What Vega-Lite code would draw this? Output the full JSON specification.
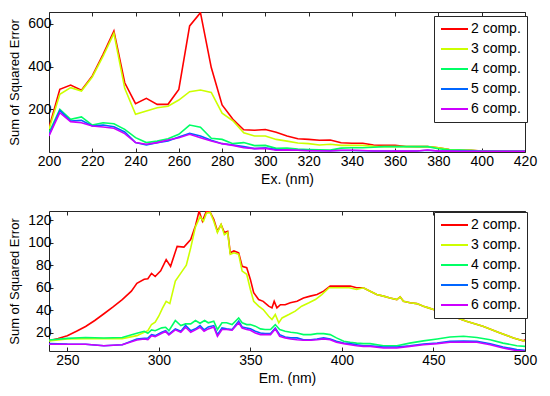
{
"$schema": "https://vega.github.io/schema/vega-lite/v6.json",
"autosize": {"type": "pad"},
"padding": {"left": 8, "top": 11, "right": 8, "bottom": 5},
"background": "white",
"datasets": {
"ex": [
{"nm":200,"comp":"2 comp.","sse":114},{"nm":205,"comp":"2 comp.","sse":293},{"nm":210,"comp":"2 comp.","sse":313},{"nm":215,"comp":"2 comp.","sse":289},{"nm":220,"comp":"2 comp.","sse":356},{"nm":225,"comp":"2 comp.","sse":457},{"nm":230,"comp":"2 comp.","sse":566},{"nm":235,"comp":"2 comp.","sse":324},{"nm":240,"comp":"2 comp.","sse":226},{"nm":245,"comp":"2 comp.","sse":251},{"nm":250,"comp":"2 comp.","sse":223},{"nm":255,"comp":"2 comp.","sse":223},{"nm":260,"comp":"2 comp.","sse":293},{"nm":265,"comp":"2 comp.","sse":590},{"nm":270,"comp":"2 comp.","sse":652},{"nm":275,"comp":"2 comp.","sse":395},{"nm":280,"comp":"2 comp.","sse":220},{"nm":285,"comp":"2 comp.","sse":153},{"nm":290,"comp":"2 comp.","sse":104},{"nm":295,"comp":"2 comp.","sse":102},{"nm":300,"comp":"2 comp.","sse":105},{"nm":305,"comp":"2 comp.","sse":92},{"nm":310,"comp":"2 comp.","sse":75},{"nm":315,"comp":"2 comp.","sse":62},{"nm":320,"comp":"2 comp.","sse":59},{"nm":325,"comp":"2 comp.","sse":55},{"nm":330,"comp":"2 comp.","sse":56},{"nm":335,"comp":"2 comp.","sse":43},{"nm":340,"comp":"2 comp.","sse":41},{"nm":345,"comp":"2 comp.","sse":41},{"nm":350,"comp":"2 comp.","sse":33},{"nm":355,"comp":"2 comp.","sse":31},{"nm":360,"comp":"2 comp.","sse":31},{"nm":365,"comp":"2 comp.","sse":26},{"nm":370,"comp":"2 comp.","sse":25},{"nm":375,"comp":"2 comp.","sse":25},{"nm":380,"comp":"2 comp.","sse":20},{"nm":385,"comp":"2 comp.","sse":12},{"nm":390,"comp":"2 comp.","sse":9},{"nm":395,"comp":"2 comp.","sse":8},{"nm":400,"comp":"2 comp.","sse":5},{"nm":405,"comp":"2 comp.","sse":4},{"nm":410,"comp":"2 comp.","sse":3},{"nm":415,"comp":"2 comp.","sse":3},{"nm":420,"comp":"2 comp.","sse":3},
{"nm":200,"comp":"3 comp.","sse":106},{"nm":205,"comp":"3 comp.","sse":270},{"nm":210,"comp":"3 comp.","sse":301},{"nm":215,"comp":"3 comp.","sse":285},{"nm":220,"comp":"3 comp.","sse":351},{"nm":225,"comp":"3 comp.","sse":449},{"nm":230,"comp":"3 comp.","sse":555},{"nm":235,"comp":"3 comp.","sse":298},{"nm":240,"comp":"3 comp.","sse":176},{"nm":245,"comp":"3 comp.","sse":192},{"nm":250,"comp":"3 comp.","sse":207},{"nm":255,"comp":"3 comp.","sse":214},{"nm":260,"comp":"3 comp.","sse":243},{"nm":265,"comp":"3 comp.","sse":282},{"nm":270,"comp":"3 comp.","sse":290},{"nm":275,"comp":"3 comp.","sse":279},{"nm":280,"comp":"3 comp.","sse":182},{"nm":285,"comp":"3 comp.","sse":146},{"nm":290,"comp":"3 comp.","sse":90},{"nm":295,"comp":"3 comp.","sse":75},{"nm":300,"comp":"3 comp.","sse":75},{"nm":305,"comp":"3 comp.","sse":59},{"nm":310,"comp":"3 comp.","sse":51},{"nm":315,"comp":"3 comp.","sse":42},{"nm":320,"comp":"3 comp.","sse":39},{"nm":325,"comp":"3 comp.","sse":33},{"nm":330,"comp":"3 comp.","sse":36},{"nm":335,"comp":"3 comp.","sse":31},{"nm":340,"comp":"3 comp.","sse":31},{"nm":345,"comp":"3 comp.","sse":31},{"nm":350,"comp":"3 comp.","sse":27},{"nm":355,"comp":"3 comp.","sse":25},{"nm":360,"comp":"3 comp.","sse":25},{"nm":365,"comp":"3 comp.","sse":25},{"nm":370,"comp":"3 comp.","sse":25},{"nm":375,"comp":"3 comp.","sse":25},{"nm":380,"comp":"3 comp.","sse":20},{"nm":385,"comp":"3 comp.","sse":12},{"nm":390,"comp":"3 comp.","sse":9},{"nm":395,"comp":"3 comp.","sse":8},{"nm":400,"comp":"3 comp.","sse":5},{"nm":405,"comp":"3 comp.","sse":4},{"nm":410,"comp":"3 comp.","sse":3},{"nm":415,"comp":"3 comp.","sse":3},{"nm":420,"comp":"3 comp.","sse":3},
{"nm":200,"comp":"4 comp.","sse":90},{"nm":205,"comp":"4 comp.","sse":200},{"nm":210,"comp":"4 comp.","sse":153},{"nm":215,"comp":"4 comp.","sse":164},{"nm":220,"comp":"4 comp.","sse":126},{"nm":225,"comp":"4 comp.","sse":137},{"nm":230,"comp":"4 comp.","sse":132},{"nm":235,"comp":"4 comp.","sse":106},{"nm":240,"comp":"4 comp.","sse":67},{"nm":245,"comp":"4 comp.","sse":44},{"nm":250,"comp":"4 comp.","sse":51},{"nm":255,"comp":"4 comp.","sse":62},{"nm":260,"comp":"4 comp.","sse":83},{"nm":265,"comp":"4 comp.","sse":126},{"nm":270,"comp":"4 comp.","sse":116},{"nm":275,"comp":"4 comp.","sse":64},{"nm":280,"comp":"4 comp.","sse":59},{"nm":285,"comp":"4 comp.","sse":39},{"nm":290,"comp":"4 comp.","sse":44},{"nm":295,"comp":"4 comp.","sse":30},{"nm":300,"comp":"4 comp.","sse":31},{"nm":305,"comp":"4 comp.","sse":17},{"nm":310,"comp":"4 comp.","sse":18},{"nm":315,"comp":"4 comp.","sse":14},{"nm":320,"comp":"4 comp.","sse":12},{"nm":325,"comp":"4 comp.","sse":10},{"nm":330,"comp":"4 comp.","sse":9},{"nm":335,"comp":"4 comp.","sse":18},{"nm":340,"comp":"4 comp.","sse":20},{"nm":345,"comp":"4 comp.","sse":20},{"nm":350,"comp":"4 comp.","sse":22},{"nm":355,"comp":"4 comp.","sse":25},{"nm":360,"comp":"4 comp.","sse":25},{"nm":365,"comp":"4 comp.","sse":25},{"nm":370,"comp":"4 comp.","sse":25},{"nm":375,"comp":"4 comp.","sse":25},{"nm":380,"comp":"4 comp.","sse":15},{"nm":385,"comp":"4 comp.","sse":10},{"nm":390,"comp":"4 comp.","sse":9},{"nm":395,"comp":"4 comp.","sse":7},{"nm":400,"comp":"4 comp.","sse":5},{"nm":405,"comp":"4 comp.","sse":4},{"nm":410,"comp":"4 comp.","sse":3},{"nm":415,"comp":"4 comp.","sse":3},{"nm":420,"comp":"4 comp.","sse":3},
{"nm":200,"comp":"5 comp.","sse":80},{"nm":205,"comp":"5 comp.","sse":195},{"nm":210,"comp":"5 comp.","sse":145},{"nm":215,"comp":"5 comp.","sse":148},{"nm":220,"comp":"5 comp.","sse":122},{"nm":225,"comp":"5 comp.","sse":126},{"nm":230,"comp":"5 comp.","sse":118},{"nm":235,"comp":"5 comp.","sse":94},{"nm":240,"comp":"5 comp.","sse":44},{"nm":245,"comp":"5 comp.","sse":33},{"nm":250,"comp":"5 comp.","sse":44},{"nm":255,"comp":"5 comp.","sse":52},{"nm":260,"comp":"5 comp.","sse":70},{"nm":265,"comp":"5 comp.","sse":87},{"nm":270,"comp":"5 comp.","sse":75},{"nm":275,"comp":"5 comp.","sse":55},{"nm":280,"comp":"5 comp.","sse":39},{"nm":285,"comp":"5 comp.","sse":33},{"nm":290,"comp":"5 comp.","sse":25},{"nm":295,"comp":"5 comp.","sse":16},{"nm":300,"comp":"5 comp.","sse":20},{"nm":305,"comp":"5 comp.","sse":11},{"nm":310,"comp":"5 comp.","sse":9},{"nm":315,"comp":"5 comp.","sse":8},{"nm":320,"comp":"5 comp.","sse":7},{"nm":325,"comp":"5 comp.","sse":6},{"nm":330,"comp":"5 comp.","sse":6},{"nm":335,"comp":"5 comp.","sse":7},{"nm":340,"comp":"5 comp.","sse":7},{"nm":345,"comp":"5 comp.","sse":6},{"nm":350,"comp":"5 comp.","sse":5},{"nm":355,"comp":"5 comp.","sse":5},{"nm":360,"comp":"5 comp.","sse":5},{"nm":365,"comp":"5 comp.","sse":5},{"nm":370,"comp":"5 comp.","sse":5},{"nm":375,"comp":"5 comp.","sse":8},{"nm":380,"comp":"5 comp.","sse":5},{"nm":385,"comp":"5 comp.","sse":4},{"nm":390,"comp":"5 comp.","sse":4},{"nm":395,"comp":"5 comp.","sse":4},{"nm":400,"comp":"5 comp.","sse":3},{"nm":405,"comp":"5 comp.","sse":3},{"nm":410,"comp":"5 comp.","sse":3},{"nm":415,"comp":"5 comp.","sse":3},{"nm":420,"comp":"5 comp.","sse":3},
{"nm":200,"comp":"6 comp.","sse":75},{"nm":205,"comp":"6 comp.","sse":184},{"nm":210,"comp":"6 comp.","sse":142},{"nm":215,"comp":"6 comp.","sse":137},{"nm":220,"comp":"6 comp.","sse":122},{"nm":225,"comp":"6 comp.","sse":117},{"nm":230,"comp":"6 comp.","sse":111},{"nm":235,"comp":"6 comp.","sse":86},{"nm":240,"comp":"6 comp.","sse":44},{"nm":245,"comp":"6 comp.","sse":36},{"nm":250,"comp":"6 comp.","sse":44},{"nm":255,"comp":"6 comp.","sse":56},{"nm":260,"comp":"6 comp.","sse":67},{"nm":265,"comp":"6 comp.","sse":83},{"nm":270,"comp":"6 comp.","sse":67},{"nm":275,"comp":"6 comp.","sse":51},{"nm":280,"comp":"6 comp.","sse":39},{"nm":285,"comp":"6 comp.","sse":31},{"nm":290,"comp":"6 comp.","sse":20},{"nm":295,"comp":"6 comp.","sse":16},{"nm":300,"comp":"6 comp.","sse":17},{"nm":305,"comp":"6 comp.","sse":8},{"nm":310,"comp":"6 comp.","sse":10},{"nm":315,"comp":"6 comp.","sse":8},{"nm":320,"comp":"6 comp.","sse":6},{"nm":325,"comp":"6 comp.","sse":6},{"nm":330,"comp":"6 comp.","sse":5},{"nm":335,"comp":"6 comp.","sse":8},{"nm":340,"comp":"6 comp.","sse":8},{"nm":345,"comp":"6 comp.","sse":7},{"nm":350,"comp":"6 comp.","sse":5},{"nm":355,"comp":"6 comp.","sse":5},{"nm":360,"comp":"6 comp.","sse":4},{"nm":365,"comp":"6 comp.","sse":4},{"nm":370,"comp":"6 comp.","sse":5},{"nm":375,"comp":"6 comp.","sse":9},{"nm":380,"comp":"6 comp.","sse":4},{"nm":385,"comp":"6 comp.","sse":4},{"nm":390,"comp":"6 comp.","sse":3},{"nm":395,"comp":"6 comp.","sse":3},{"nm":400,"comp":"6 comp.","sse":3},{"nm":405,"comp":"6 comp.","sse":3},{"nm":410,"comp":"6 comp.","sse":3},{"nm":415,"comp":"6 comp.","sse":3},{"nm":420,"comp":"6 comp.","sse":3}
],
"em": [
{"nm":240,"comp":"2 comp.","sse":13},{"nm":245,"comp":"2 comp.","sse":15},{"nm":250,"comp":"2 comp.","sse":17.6},{"nm":255,"comp":"2 comp.","sse":21.5},{"nm":260,"comp":"2 comp.","sse":25.7},{"nm":265,"comp":"2 comp.","sse":31},{"nm":270,"comp":"2 comp.","sse":37},{"nm":275,"comp":"2 comp.","sse":43},{"nm":280,"comp":"2 comp.","sse":49.5},{"nm":285,"comp":"2 comp.","sse":57},{"nm":288,"comp":"2 comp.","sse":64},{"nm":292,"comp":"2 comp.","sse":67.5},{"nm":294,"comp":"2 comp.","sse":68},{"nm":296,"comp":"2 comp.","sse":72.8},{"nm":298,"comp":"2 comp.","sse":70},{"nm":301,"comp":"2 comp.","sse":75},{"nm":304,"comp":"2 comp.","sse":85},{"nm":306.4,"comp":"2 comp.","sse":79},{"nm":310,"comp":"2 comp.","sse":96.7},{"nm":313.7,"comp":"2 comp.","sse":96},{"nm":317.4,"comp":"2 comp.","sse":102.7},{"nm":320,"comp":"2 comp.","sse":115},{"nm":322,"comp":"2 comp.","sse":128},{"nm":323.8,"comp":"2 comp.","sse":119},{"nm":326,"comp":"2 comp.","sse":128},{"nm":328,"comp":"2 comp.","sse":127},{"nm":330,"comp":"2 comp.","sse":120.7},{"nm":332,"comp":"2 comp.","sse":110},{"nm":334,"comp":"2 comp.","sse":116},{"nm":335.8,"comp":"2 comp.","sse":109},{"nm":337.6,"comp":"2 comp.","sse":110},{"nm":339,"comp":"2 comp.","sse":91},{"nm":341,"comp":"2 comp.","sse":92.6},{"nm":343.6,"comp":"2 comp.","sse":91},{"nm":345.5,"comp":"2 comp.","sse":79},{"nm":348,"comp":"2 comp.","sse":77.8},{"nm":350,"comp":"2 comp.","sse":67.4},{"nm":351.8,"comp":"2 comp.","sse":55.6},{"nm":354.5,"comp":"2 comp.","sse":49.6},{"nm":357,"comp":"2 comp.","sse":48},{"nm":360,"comp":"2 comp.","sse":43.7},{"nm":361.8,"comp":"2 comp.","sse":42.2},{"nm":363,"comp":"2 comp.","sse":48},{"nm":364.5,"comp":"2 comp.","sse":42.2},{"nm":366.4,"comp":"2 comp.","sse":45},{"nm":369,"comp":"2 comp.","sse":45},{"nm":371.8,"comp":"2 comp.","sse":46.7},{"nm":375.5,"comp":"2 comp.","sse":48},{"nm":379,"comp":"2 comp.","sse":51},{"nm":382.7,"comp":"2 comp.","sse":52.6},{"nm":386.4,"comp":"2 comp.","sse":54},{"nm":390,"comp":"2 comp.","sse":57},{"nm":393.6,"comp":"2 comp.","sse":61.5},{"nm":397,"comp":"2 comp.","sse":61.5},{"nm":401,"comp":"2 comp.","sse":61.5},{"nm":404.5,"comp":"2 comp.","sse":61.5},{"nm":408,"comp":"2 comp.","sse":60},{"nm":411.7,"comp":"2 comp.","sse":60},{"nm":415.4,"comp":"2 comp.","sse":57},{"nm":419,"comp":"2 comp.","sse":54},{"nm":422.7,"comp":"2 comp.","sse":52.6},{"nm":426.3,"comp":"2 comp.","sse":51},{"nm":430,"comp":"2 comp.","sse":49.6},{"nm":431.8,"comp":"2 comp.","sse":52},{"nm":433.6,"comp":"2 comp.","sse":48},{"nm":437.2,"comp":"2 comp.","sse":46.7},{"nm":440.9,"comp":"2 comp.","sse":46},{"nm":444.5,"comp":"2 comp.","sse":43.7},{"nm":447.3,"comp":"2 comp.","sse":42.2},{"nm":450,"comp":"2 comp.","sse":40.7},{"nm":460,"comp":"2 comp.","sse":35},{"nm":468,"comp":"2 comp.","sse":30.4},{"nm":477,"comp":"2 comp.","sse":26},{"nm":486.4,"comp":"2 comp.","sse":20},{"nm":493.7,"comp":"2 comp.","sse":15.6},{"nm":499,"comp":"2 comp.","sse":13},{"nm":500,"comp":"2 comp.","sse":14},
{"nm":240,"comp":"3 comp.","sse":13},{"nm":250,"comp":"3 comp.","sse":14.6},{"nm":260,"comp":"3 comp.","sse":15},{"nm":270,"comp":"3 comp.","sse":15},{"nm":280,"comp":"3 comp.","sse":15},{"nm":288,"comp":"3 comp.","sse":17.6},{"nm":292,"comp":"3 comp.","sse":20.6},{"nm":294,"comp":"3 comp.","sse":22},{"nm":296,"comp":"3 comp.","sse":27.5},{"nm":298,"comp":"3 comp.","sse":29.5},{"nm":300,"comp":"3 comp.","sse":35},{"nm":302,"comp":"3 comp.","sse":42},{"nm":304,"comp":"3 comp.","sse":48},{"nm":306,"comp":"3 comp.","sse":46},{"nm":309,"comp":"3 comp.","sse":66},{"nm":312,"comp":"3 comp.","sse":73},{"nm":315,"comp":"3 comp.","sse":80},{"nm":317.5,"comp":"3 comp.","sse":96},{"nm":320,"comp":"3 comp.","sse":114},{"nm":322.5,"comp":"3 comp.","sse":123},{"nm":324.4,"comp":"3 comp.","sse":119},{"nm":326,"comp":"3 comp.","sse":126},{"nm":328,"comp":"3 comp.","sse":126.7},{"nm":330,"comp":"3 comp.","sse":119},{"nm":332,"comp":"3 comp.","sse":109},{"nm":334,"comp":"3 comp.","sse":116},{"nm":335.8,"comp":"3 comp.","sse":107},{"nm":337.6,"comp":"3 comp.","sse":109},{"nm":339,"comp":"3 comp.","sse":89.6},{"nm":341,"comp":"3 comp.","sse":91},{"nm":343.6,"comp":"3 comp.","sse":89.6},{"nm":345.5,"comp":"3 comp.","sse":74.8},{"nm":348,"comp":"3 comp.","sse":71.9},{"nm":350,"comp":"3 comp.","sse":58.5},{"nm":351.8,"comp":"3 comp.","sse":48},{"nm":354.5,"comp":"3 comp.","sse":43.7},{"nm":357,"comp":"3 comp.","sse":40.7},{"nm":360,"comp":"3 comp.","sse":34.8},{"nm":361.8,"comp":"3 comp.","sse":31.9},{"nm":363.6,"comp":"3 comp.","sse":36.3},{"nm":365.5,"comp":"3 comp.","sse":28.9},{"nm":367.3,"comp":"3 comp.","sse":33.3},{"nm":371,"comp":"3 comp.","sse":36.3},{"nm":374.5,"comp":"3 comp.","sse":39.3},{"nm":378,"comp":"3 comp.","sse":43.7},{"nm":382,"comp":"3 comp.","sse":46.7},{"nm":385.5,"comp":"3 comp.","sse":49.6},{"nm":389,"comp":"3 comp.","sse":54},{"nm":393,"comp":"3 comp.","sse":60},{"nm":396,"comp":"3 comp.","sse":60},{"nm":400,"comp":"3 comp.","sse":60},{"nm":404,"comp":"3 comp.","sse":60},{"nm":408,"comp":"3 comp.","sse":58.5},{"nm":411.7,"comp":"3 comp.","sse":60},{"nm":415.4,"comp":"3 comp.","sse":57},{"nm":419,"comp":"3 comp.","sse":54},{"nm":422.7,"comp":"3 comp.","sse":52.6},{"nm":426.3,"comp":"3 comp.","sse":51},{"nm":430,"comp":"3 comp.","sse":49.6},{"nm":431.8,"comp":"3 comp.","sse":52},{"nm":433.6,"comp":"3 comp.","sse":48},{"nm":437.2,"comp":"3 comp.","sse":46.7},{"nm":440.9,"comp":"3 comp.","sse":46},{"nm":444.5,"comp":"3 comp.","sse":43.7},{"nm":447.3,"comp":"3 comp.","sse":42.2},{"nm":450,"comp":"3 comp.","sse":40.7},{"nm":460,"comp":"3 comp.","sse":35},{"nm":468,"comp":"3 comp.","sse":30.4},{"nm":477,"comp":"3 comp.","sse":26},{"nm":486.4,"comp":"3 comp.","sse":20},{"nm":493.7,"comp":"3 comp.","sse":15.6},{"nm":500,"comp":"3 comp.","sse":12.6},
{"nm":240,"comp":"4 comp.","sse":13.7},{"nm":250,"comp":"4 comp.","sse":15.2},{"nm":260,"comp":"4 comp.","sse":16},{"nm":270,"comp":"4 comp.","sse":15.5},{"nm":280,"comp":"4 comp.","sse":16},{"nm":288,"comp":"4 comp.","sse":19.7},{"nm":292,"comp":"4 comp.","sse":21.5},{"nm":294,"comp":"4 comp.","sse":19.7},{"nm":296,"comp":"4 comp.","sse":22.7},{"nm":298,"comp":"4 comp.","sse":22},{"nm":301.6,"comp":"4 comp.","sse":24.5},{"nm":303.7,"comp":"4 comp.","sse":25},{"nm":305.5,"comp":"4 comp.","sse":22},{"nm":309,"comp":"4 comp.","sse":31},{"nm":312,"comp":"4 comp.","sse":26.6},{"nm":314.6,"comp":"4 comp.","sse":28},{"nm":317.4,"comp":"4 comp.","sse":28},{"nm":320,"comp":"4 comp.","sse":31},{"nm":322.5,"comp":"4 comp.","sse":28.6},{"nm":325,"comp":"4 comp.","sse":31},{"nm":327,"comp":"4 comp.","sse":29},{"nm":330,"comp":"4 comp.","sse":30.4},{"nm":332,"comp":"4 comp.","sse":23},{"nm":334.5,"comp":"4 comp.","sse":29},{"nm":337,"comp":"4 comp.","sse":29},{"nm":340,"comp":"4 comp.","sse":27.4},{"nm":343.6,"comp":"4 comp.","sse":33.3},{"nm":345.5,"comp":"4 comp.","sse":29},{"nm":348,"comp":"4 comp.","sse":27.4},{"nm":350,"comp":"4 comp.","sse":27.4},{"nm":352.7,"comp":"4 comp.","sse":26},{"nm":355.5,"comp":"4 comp.","sse":23.6},{"nm":358,"comp":"4 comp.","sse":23},{"nm":361,"comp":"4 comp.","sse":23},{"nm":363.6,"comp":"4 comp.","sse":27.4},{"nm":366,"comp":"4 comp.","sse":23},{"nm":369,"comp":"4 comp.","sse":21.5},{"nm":372,"comp":"4 comp.","sse":20.6},{"nm":375.5,"comp":"4 comp.","sse":20},{"nm":379,"comp":"4 comp.","sse":18.5},{"nm":383,"comp":"4 comp.","sse":18.5},{"nm":386.4,"comp":"4 comp.","sse":19.4},{"nm":390,"comp":"4 comp.","sse":19.4},{"nm":393.6,"comp":"4 comp.","sse":18.5},{"nm":397,"comp":"4 comp.","sse":15.6},{"nm":401,"comp":"4 comp.","sse":12.6},{"nm":404.5,"comp":"4 comp.","sse":11.7},{"nm":408,"comp":"4 comp.","sse":11},{"nm":411.7,"comp":"4 comp.","sse":10.5},{"nm":415.4,"comp":"4 comp.","sse":10.5},{"nm":422.7,"comp":"4 comp.","sse":8.7},{"nm":430,"comp":"4 comp.","sse":8.7},{"nm":437,"comp":"4 comp.","sse":11},{"nm":444.5,"comp":"4 comp.","sse":13},{"nm":452,"comp":"4 comp.","sse":14.7},{"nm":459,"comp":"4 comp.","sse":16.4},{"nm":466.4,"comp":"4 comp.","sse":17},{"nm":473.7,"comp":"4 comp.","sse":16},{"nm":481,"comp":"4 comp.","sse":14},{"nm":488,"comp":"4 comp.","sse":11},{"nm":495.5,"comp":"4 comp.","sse":8.7},{"nm":500,"comp":"4 comp.","sse":8.1},
{"nm":240,"comp":"5 comp.","sse":10.7},{"nm":250,"comp":"5 comp.","sse":10.1},{"nm":260,"comp":"5 comp.","sse":10},{"nm":270,"comp":"5 comp.","sse":8.7},{"nm":280,"comp":"5 comp.","sse":9.5},{"nm":288,"comp":"5 comp.","sse":14.6},{"nm":292,"comp":"5 comp.","sse":15.2},{"nm":294,"comp":"5 comp.","sse":15.5},{"nm":296,"comp":"5 comp.","sse":18.5},{"nm":298,"comp":"5 comp.","sse":17.6},{"nm":301.6,"comp":"5 comp.","sse":20.6},{"nm":303.7,"comp":"5 comp.","sse":22},{"nm":305.5,"comp":"5 comp.","sse":19},{"nm":309,"comp":"5 comp.","sse":23.6},{"nm":312,"comp":"5 comp.","sse":21.5},{"nm":314.6,"comp":"5 comp.","sse":26.6},{"nm":317.4,"comp":"5 comp.","sse":22},{"nm":320,"comp":"5 comp.","sse":23.6},{"nm":322.5,"comp":"5 comp.","sse":26.6},{"nm":324.7,"comp":"5 comp.","sse":22.7},{"nm":327,"comp":"5 comp.","sse":25.3},{"nm":330,"comp":"5 comp.","sse":26.5},{"nm":332,"comp":"5 comp.","sse":18.5},{"nm":334.5,"comp":"5 comp.","sse":24.4},{"nm":337,"comp":"5 comp.","sse":23.6},{"nm":340,"comp":"5 comp.","sse":23},{"nm":343.6,"comp":"5 comp.","sse":30.4},{"nm":345.5,"comp":"5 comp.","sse":25.3},{"nm":348,"comp":"5 comp.","sse":24.4},{"nm":350,"comp":"5 comp.","sse":23.6},{"nm":352.7,"comp":"5 comp.","sse":21.5},{"nm":355.5,"comp":"5 comp.","sse":20},{"nm":358,"comp":"5 comp.","sse":19.4},{"nm":361,"comp":"5 comp.","sse":19.4},{"nm":363.6,"comp":"5 comp.","sse":24.4},{"nm":366,"comp":"5 comp.","sse":18.5},{"nm":369,"comp":"5 comp.","sse":16.4},{"nm":372,"comp":"5 comp.","sse":15.6},{"nm":375.5,"comp":"5 comp.","sse":15.6},{"nm":379,"comp":"5 comp.","sse":14},{"nm":383,"comp":"5 comp.","sse":14},{"nm":386.4,"comp":"5 comp.","sse":14.7},{"nm":390,"comp":"5 comp.","sse":15.6},{"nm":393.6,"comp":"5 comp.","sse":14.7},{"nm":397,"comp":"5 comp.","sse":12.6},{"nm":401,"comp":"5 comp.","sse":11},{"nm":404.5,"comp":"5 comp.","sse":10.5},{"nm":408,"comp":"5 comp.","sse":9.6},{"nm":411.7,"comp":"5 comp.","sse":8.7},{"nm":415.4,"comp":"5 comp.","sse":8.7},{"nm":422.7,"comp":"5 comp.","sse":7.6},{"nm":430,"comp":"5 comp.","sse":7.6},{"nm":437,"comp":"5 comp.","sse":8.7},{"nm":444.5,"comp":"5 comp.","sse":10.2},{"nm":452,"comp":"5 comp.","sse":11},{"nm":459,"comp":"5 comp.","sse":12.6},{"nm":466.4,"comp":"5 comp.","sse":12.9},{"nm":473.7,"comp":"5 comp.","sse":12.6},{"nm":481,"comp":"5 comp.","sse":10.5},{"nm":488,"comp":"5 comp.","sse":7.6},{"nm":495.5,"comp":"5 comp.","sse":5.2},{"nm":500,"comp":"5 comp.","sse":4.6},
{"nm":240,"comp":"6 comp.","sse":10},{"nm":250,"comp":"6 comp.","sse":10},{"nm":260,"comp":"6 comp.","sse":10},{"nm":270,"comp":"6 comp.","sse":8.7},{"nm":280,"comp":"6 comp.","sse":9.5},{"nm":288,"comp":"6 comp.","sse":13.7},{"nm":292,"comp":"6 comp.","sse":14.6},{"nm":294,"comp":"6 comp.","sse":14},{"nm":296,"comp":"6 comp.","sse":17.6},{"nm":298,"comp":"6 comp.","sse":16.7},{"nm":301.6,"comp":"6 comp.","sse":19.7},{"nm":303.7,"comp":"6 comp.","sse":21.2},{"nm":305.5,"comp":"6 comp.","sse":18.2},{"nm":309,"comp":"6 comp.","sse":22.7},{"nm":312,"comp":"6 comp.","sse":20.6},{"nm":314.6,"comp":"6 comp.","sse":25},{"nm":317.4,"comp":"6 comp.","sse":20.6},{"nm":320,"comp":"6 comp.","sse":22.7},{"nm":322.5,"comp":"6 comp.","sse":25},{"nm":324.7,"comp":"6 comp.","sse":21.5},{"nm":327,"comp":"6 comp.","sse":23.6},{"nm":330,"comp":"6 comp.","sse":25.3},{"nm":332,"comp":"6 comp.","sse":17},{"nm":334.5,"comp":"6 comp.","sse":23},{"nm":337,"comp":"6 comp.","sse":23},{"nm":340,"comp":"6 comp.","sse":22.4},{"nm":343.6,"comp":"6 comp.","sse":29},{"nm":345.5,"comp":"6 comp.","sse":24.4},{"nm":348,"comp":"6 comp.","sse":23},{"nm":350,"comp":"6 comp.","sse":22.4},{"nm":352.7,"comp":"6 comp.","sse":20},{"nm":355.5,"comp":"6 comp.","sse":18.5},{"nm":358,"comp":"6 comp.","sse":18.5},{"nm":361,"comp":"6 comp.","sse":18.5},{"nm":363.6,"comp":"6 comp.","sse":23.6},{"nm":366,"comp":"6 comp.","sse":17},{"nm":369,"comp":"6 comp.","sse":15.6},{"nm":372,"comp":"6 comp.","sse":14.7},{"nm":375.5,"comp":"6 comp.","sse":14},{"nm":379,"comp":"6 comp.","sse":13.5},{"nm":383,"comp":"6 comp.","sse":13.5},{"nm":386.4,"comp":"6 comp.","sse":14},{"nm":390,"comp":"6 comp.","sse":14.7},{"nm":393.6,"comp":"6 comp.","sse":14},{"nm":397,"comp":"6 comp.","sse":11.7},{"nm":401,"comp":"6 comp.","sse":10.5},{"nm":404.5,"comp":"6 comp.","sse":9.6},{"nm":408,"comp":"6 comp.","sse":8.7},{"nm":411.7,"comp":"6 comp.","sse":8.1},{"nm":415.4,"comp":"6 comp.","sse":8.1},{"nm":422.7,"comp":"6 comp.","sse":6.7},{"nm":430,"comp":"6 comp.","sse":6.7},{"nm":437,"comp":"6 comp.","sse":8.1},{"nm":444.5,"comp":"6 comp.","sse":9.6},{"nm":452,"comp":"6 comp.","sse":10.5},{"nm":459,"comp":"6 comp.","sse":11.7},{"nm":466.4,"comp":"6 comp.","sse":12},{"nm":473.7,"comp":"6 comp.","sse":11.7},{"nm":481,"comp":"6 comp.","sse":9.6},{"nm":488,"comp":"6 comp.","sse":6.7},{"nm":495.5,"comp":"6 comp.","sse":4.3},{"nm":500,"comp":"6 comp.","sse":3.7}
]
},
"vconcat": [
{
"width": 476, "height": 140,
"data": {"name": "ex"},
"layer": [
{"mark": {"type": "line", "strokeWidth": 1.6, "clip": true},
"encoding": {
"x": {"field": "nm", "type": "quantitative", "scale": {"domain": [200, 420], "nice": false, "zero": false},
"axis": {"orient": "bottom", "title": "Ex. (nm)", "values": [200,220,240,260,280,300,320,340,360,380,400,420]}},
"y": {"field": "sse", "type": "quantitative", "scale": {"domain": [0, 655], "nice": false, "zero": false},
"axis": {"orient": "left", "title": "Sum of Squared Error", "values": [200,400,600]}},
"color": {"field": "comp", "type": "nominal",
"scale": {"domain": ["2 comp.","3 comp.","4 comp.","5 comp.","6 comp."], "range": ["#ff0000","#ccff00","#00ff66","#0066ff","#cc00ff"]},
"legend": {"orient": "none", "legendX": 385, "legendY": 4, "title": null}}
}},
{"mark": {"type": "line", "opacity": 0},
"encoding": {
"x": {"field": "nm", "type": "quantitative", "axis": {"orient": "top", "labels": false, "title": null, "values": [200,220,240,260,280,300,320,340,360,380,400,420]}},
"y": {"field": "sse", "type": "quantitative", "axis": {"orient": "right", "labels": false, "title": null, "values": [200,400,600]}}
}}
],
"resolve": {"axis": {"x": "independent", "y": "independent"}}
},
{
"width": 476, "height": 140,
"data": {"name": "em"},
"layer": [
{"mark": {"type": "line", "strokeWidth": 1.6, "clip": true},
"encoding": {
"x": {"field": "nm", "type": "quantitative", "scale": {"domain": [240, 500], "nice": false, "zero": false},
"axis": {"orient": "bottom", "title": "Em. (nm)", "values": [250,300,350,400,450,500]}},
"y": {"field": "sse", "type": "quantitative", "scale": {"domain": [4, 128], "nice": false, "zero": false},
"axis": {"orient": "left", "title": "Sum of Squared Error", "values": [20,40,60,80,100,120]}},
"color": {"field": "comp", "type": "nominal",
"scale": {"domain": ["2 comp.","3 comp.","4 comp.","5 comp.","6 comp."], "range": ["#ff0000","#ccff00","#00ff66","#0066ff","#cc00ff"]},
"legend": {"orient": "none", "legendX": 385, "legendY": 1, "title": null}}
}},
{"mark": {"type": "line", "opacity": 0},
"encoding": {
"x": {"field": "nm", "type": "quantitative", "axis": {"orient": "top", "labels": false, "title": null, "values": [250,300,350,400,450,500]}},
"y": {"field": "sse", "type": "quantitative", "axis": {"orient": "right", "labels": false, "title": null, "values": [20,40,60,80,100,120]}}
}}
],
"resolve": {"axis": {"x": "independent", "y": "independent"}}
}
],
"spacing": 59,
"bounds": "flush",
"resolve": {"legend": {"color": "independent"}},
"config": {
"font": "Liberation Sans",
"view": {"stroke": "#262626", "strokeWidth": 1},
"axis": {"domain": false, "grid": false, "ticks": true, "tickSize": -4, "tickColor": "#262626", "labelFontSize": 14, "labelColor": "black", "labelPadding": 6, "labelOverlap": false, "labelFlush": false, "titleFontSize": 14, "titleFontWeight": "normal", "titleColor": "black", "titlePadding": 4},
"axisY": {"titleFontSize": 13, "labelPadding": 2, "titlePadding": 6},
"legend": {"symbolType": "stroke", "symbolSize": 729, "symbolStrokeWidth": 2, "clipHeight": 14, "labelFontSize": 14, "labelColor": "black", "labelOffset": 2, "padding": 6, "rowPadding": 6, "strokeColor": "#262626", "fillColor": "white", "cornerRadius": 0}
}
}
